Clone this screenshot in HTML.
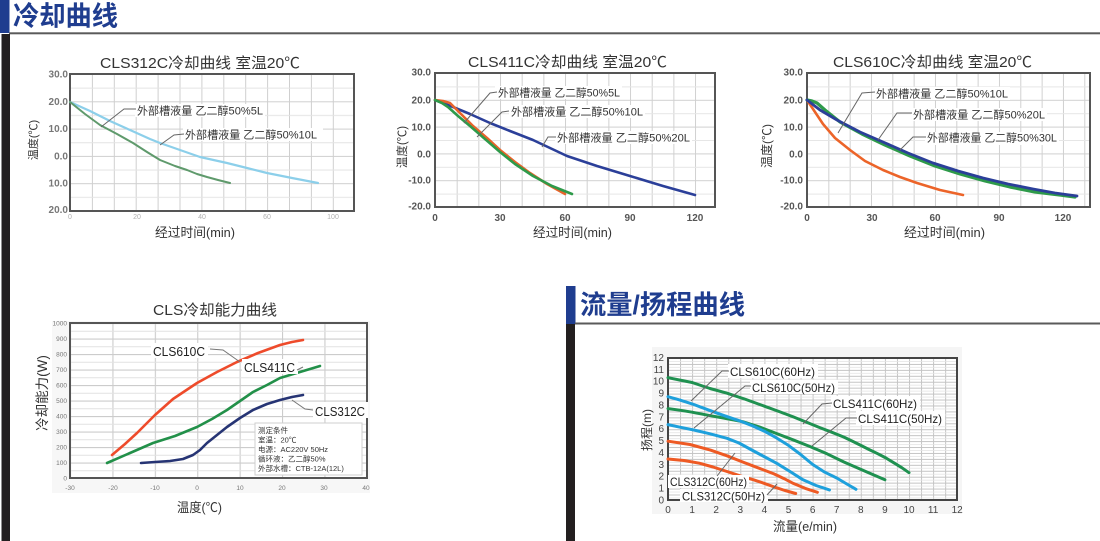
<!DOCTYPE html>
<html>
<head>
<meta charset="utf-8">
<style>
html,body{margin:0;padding:0;background:#fff;}
svg{display:block;}
text{font-family:"Liberation Sans","Noto Sans CJK SC",sans-serif;}
</style>
</head>
<body>
<svg width="1100" height="541" viewBox="0 0 1100 541" xmlns="http://www.w3.org/2000/svg">
<defs>
  <pattern id="g1" patternUnits="userSpaceOnUse" x="70" y="74" width="21.9" height="27.3">
    <path d="M0.5,0 V27.3 M0,0.5 H21.9" stroke="#cfcfcf" stroke-width="1" fill="none"/>
    <path d="M0,14.15 H21.9" stroke="#e4e4e4" stroke-width="1" fill="none"/>
  </pattern>
  <pattern id="g2" patternUnits="userSpaceOnUse" x="435" y="73" width="21.67" height="26.8">
    <path d="M0.5,0 V26.8 M0,0.5 H21.67" stroke="#d0d0d0" stroke-width="1" fill="none"/>
    <path d="M0,13.9 H21.67" stroke="#e6e6e6" stroke-width="1" fill="none"/>
  </pattern>
  <pattern id="g3" patternUnits="userSpaceOnUse" x="807" y="73" width="21.33" height="26.8">
    <path d="M0.5,0 V26.8 M0,0.5 H21.33" stroke="#d0d0d0" stroke-width="1" fill="none"/>
    <path d="M0,13.9 H21.33" stroke="#e6e6e6" stroke-width="1" fill="none"/>
  </pattern>
  <pattern id="g4" patternUnits="userSpaceOnUse" x="70" y="323" width="42.4" height="15.5">
    <path d="M0.5,0 V15.5 M0,0.5 H42.4" stroke="#cccccc" stroke-width="1.2" fill="none"/>
    <path d="M0,8.25 H42.4" stroke="#e2e2e2" stroke-width="1" fill="none"/>
  </pattern>
  <pattern id="g5" patternUnits="userSpaceOnUse" x="668" y="358" width="12.05" height="5.935">
    <path d="M0.5,0 V5.935 M0,0.5 H12.05" stroke="#c4c4c4" stroke-width="1" fill="none"/>
    <path d="M0,3.47 H12.05" stroke="#e4e4e4" stroke-width="0.8" fill="none"/>
  </pattern>
</defs>

<!-- ===== Section 1 header ===== -->
<rect x="0" y="0" width="9.5" height="33" fill="#1f3d8f"/>
<rect x="9" y="32.3" width="1091" height="2" fill="#5a5a5a"/>
<rect x="1.5" y="34" width="8.5" height="507" fill="#231f20"/>
<text x="13" y="25.5" font-size="27" font-weight="bold" fill="#1f3d8f" textLength="105" lengthAdjust="spacingAndGlyphs">冷却曲线</text>

<!-- ===== Chart 1 ===== -->
<text x="100" y="68" font-size="15" fill="#333" textLength="200" lengthAdjust="spacingAndGlyphs">CLS312C冷却曲线 室温20℃</text>
<rect x="70" y="74" width="284" height="137" fill="url(#g1)"/>
<rect x="70" y="74" width="284" height="137" fill="none" stroke="#555" stroke-width="2"/>
<g font-size="10" font-weight="bold" fill="#777" text-anchor="end">
  <text x="68" y="77.5">30.0</text>
  <text x="68" y="104.8">20.0</text>
  <text x="68" y="132">10.0</text>
  <text x="68" y="159.4">0.0</text>
  <text x="68" y="186.7">10.0</text>
  <text x="68" y="213">20.0</text>
</g>
<g font-size="7" fill="#b0b0b0" text-anchor="middle">
  <text x="70" y="219">0</text>
  <text x="137" y="219">20</text>
  <text x="202" y="219">40</text>
  <text x="267" y="219">60</text>
  <text x="333" y="219">100</text>
</g>
<text transform="translate(37,140) rotate(-90)" font-size="11" fill="#333" text-anchor="middle">温度(℃)</text>
<text x="155" y="237" font-size="13" fill="#333" textLength="80" lengthAdjust="spacingAndGlyphs">经过时间(min)</text>
<polyline points="70,102 90,111 110,121 130,130 150,139 160,143 180,150 200,157 227,163 247,168 267,173 292,178 318,183" fill="none" stroke="#8ccfea" stroke-width="2.2" stroke-linejoin="round" stroke-linecap="round"/>
<polyline points="70,102 85,114 100,125 117,134 133,143 147,152 160,160 175,166 187,170 197,174 207,177 218,180 230,183" fill="none" stroke="#5f9a6c" stroke-width="2" stroke-linejoin="round" stroke-linecap="round"/>
<rect x="135" y="104" width="130" height="13" fill="#fff"/>
<rect x="183" y="128" width="140" height="13" fill="#fff"/>
<polyline points="136,109 124,109 101,127" fill="none" stroke="#666" stroke-width="1"/>
<polyline points="184,134 174,135 160,145" fill="none" stroke="#666" stroke-width="1"/>
<text x="137" y="114.5" font-size="11" fill="#333" textLength="126" lengthAdjust="spacingAndGlyphs">外部槽液量 乙二醇50%5L</text>
<text x="185" y="138.5" font-size="11" fill="#333" textLength="132" lengthAdjust="spacingAndGlyphs">外部槽液量 乙二醇50%10L</text>

<!-- ===== Chart 2 ===== -->
<text x="468" y="67" font-size="15" fill="#333" textLength="199" lengthAdjust="spacingAndGlyphs">CLS411C冷却曲线 室温20℃</text>
<rect x="435" y="73" width="280" height="134" fill="url(#g2)"/>
<rect x="435" y="73" width="280" height="134" fill="none" stroke="#555" stroke-width="2"/>
<g font-size="10" font-weight="bold" fill="#555" text-anchor="end">
  <text x="431" y="75.5">30.0</text>
  <text x="431" y="103.5">20.0</text>
  <text x="431" y="130.5">10.0</text>
  <text x="431" y="157.5">0.0</text>
  <text x="431" y="183.5">-10.0</text>
  <text x="431" y="209.5">-20.0</text>
</g>
<g font-size="10" font-weight="bold" fill="#555" text-anchor="middle">
  <text x="435" y="221">0</text>
  <text x="500" y="221">30</text>
  <text x="565" y="221">60</text>
  <text x="630" y="221">90</text>
  <text x="695" y="221">120</text>
</g>
<text transform="translate(406,147) rotate(-90)" font-size="11.5" fill="#333" text-anchor="middle">温度(℃)</text>
<text x="533" y="237" font-size="13" fill="#333" textLength="79" lengthAdjust="spacingAndGlyphs">经过时间(min)</text>
<polyline points="435,100 453,107 470,114 490,123 510,131 533,140 550,148 567,156 597,166 630,176 663,186 695,195" fill="none" stroke="#2b3f99" stroke-width="2.6" stroke-linejoin="round" stroke-linecap="round"/>
<polyline points="435,100 443,101 450,103 460,113 473,126 487,138 500,150 515,162 530,173 547,184 565,194" fill="none" stroke="#e8632a" stroke-width="2.6" stroke-linejoin="round" stroke-linecap="round"/>
<polyline points="435,100 442,103 448,107 458,116 470,126 485,139 500,152 515,164 533,176 552,186 572,194" fill="none" stroke="#2e9a4a" stroke-width="2.6" stroke-linejoin="round" stroke-linecap="round"/>
<rect x="495" y="86" width="127" height="13" fill="#fff"/>
<rect x="509" y="105" width="136" height="13" fill="#fff"/>
<rect x="555" y="131" width="137" height="13" fill="#fff"/>
<polyline points="497,92 490,93 464,123" fill="none" stroke="#666" stroke-width="1"/>
<polyline points="509,111 502,112 477,137" fill="none" stroke="#666" stroke-width="1"/>
<polyline points="556,137 548,137 542,147" fill="none" stroke="#666" stroke-width="1"/>
<text x="498" y="96.5" font-size="11" fill="#333" textLength="122" lengthAdjust="spacingAndGlyphs">外部槽液量 乙二醇50%5L</text>
<text x="511" y="115.5" font-size="11" fill="#333" textLength="132" lengthAdjust="spacingAndGlyphs">外部槽液量 乙二醇50%10L</text>
<text x="557" y="141.5" font-size="11" fill="#333" textLength="133" lengthAdjust="spacingAndGlyphs">外部槽液量 乙二醇50%20L</text>

<!-- ===== Chart 3 ===== -->
<text x="833" y="67" font-size="15" fill="#333" textLength="199" lengthAdjust="spacingAndGlyphs">CLS610C冷却曲线 室温20℃</text>
<rect x="807" y="73" width="283" height="134" fill="url(#g3)"/>
<rect x="807" y="73" width="283" height="134" fill="none" stroke="#555" stroke-width="2"/>
<g font-size="10" font-weight="bold" fill="#555" text-anchor="end">
  <text x="803" y="75.5">30.0</text>
  <text x="803" y="103.5">20.0</text>
  <text x="803" y="130.5">10.0</text>
  <text x="803" y="157.5">0.0</text>
  <text x="803" y="183.5">-10.0</text>
  <text x="803" y="209.5">-20.0</text>
</g>
<g font-size="10" font-weight="bold" fill="#555" text-anchor="middle">
  <text x="807" y="221">0</text>
  <text x="872" y="221">30</text>
  <text x="935" y="221">60</text>
  <text x="999" y="221">90</text>
  <text x="1063" y="221">120</text>
</g>
<text transform="translate(771,146) rotate(-90)" font-size="12" fill="#333" text-anchor="middle">温度(℃)</text>
<text x="904" y="237" font-size="13" fill="#333" textLength="81" lengthAdjust="spacingAndGlyphs">经过时间(min)</text>
<polyline points="807,100 815,112 823,124 835,138 850,150 865,161 883,170 900,177 917,183 940,190 963,195" fill="none" stroke="#ec6429" stroke-width="2.6" stroke-linejoin="round" stroke-linecap="round"/>
<polyline points="807,100 812,101 817,103 825,110 840,122 862,134 885,145 910,156 935,166 960,174 985,181 1010,187 1035,192 1060,195 1075,197" fill="none" stroke="#2e9a4a" stroke-width="3.2" stroke-linejoin="round" stroke-linecap="round"/>
<polyline points="807,100 820,110 837,120 860,132 883,142 908,153 933,163 958,171 983,178 1008,184 1033,189 1055,193 1077,196" fill="none" stroke="#2b3f99" stroke-width="2.8" stroke-linejoin="round" stroke-linecap="round"/>
<rect x="874" y="87" width="136" height="13" fill="#fff"/>
<rect x="911" y="108" width="136" height="13" fill="#fff"/>
<rect x="925" y="132" width="134" height="13" fill="#fff"/>
<polyline points="875,92 862,93 838,133" fill="none" stroke="#666" stroke-width="1"/>
<polyline points="912,113 897,113 878,140" fill="none" stroke="#666" stroke-width="1"/>
<polyline points="926,137 913,137 900,150" fill="none" stroke="#666" stroke-width="1"/>
<text x="876" y="97.5" font-size="11" fill="#333" textLength="132" lengthAdjust="spacingAndGlyphs">外部槽液量 乙二醇50%10L</text>
<text x="913" y="118.5" font-size="11" fill="#333" textLength="132" lengthAdjust="spacingAndGlyphs">外部槽液量 乙二醇50%20L</text>
<text x="927" y="141.5" font-size="11" fill="#333" textLength="130" lengthAdjust="spacingAndGlyphs">外部槽液量 乙二醇50%30L</text>

<!-- ===== Chart 4 ===== -->
<rect x="52" y="321" width="318" height="172" fill="#f7f7f7"/>
<text x="153" y="315" font-size="15" fill="#333" textLength="124" lengthAdjust="spacingAndGlyphs">CLS冷却能力曲线</text>
<rect x="70" y="323" width="297" height="155" fill="#fff"/>
<rect x="70" y="323" width="297" height="155" fill="url(#g4)"/>
<rect x="70" y="323" width="297" height="155" fill="none" stroke="#555" stroke-width="2"/>
<g font-size="6.5" fill="#777" text-anchor="end">
  <text x="67" y="325.5">1000</text>
  <text x="67" y="341">900</text>
  <text x="67" y="356.5">800</text>
  <text x="67" y="372">700</text>
  <text x="67" y="387.5">600</text>
  <text x="67" y="403">500</text>
  <text x="67" y="418.5">400</text>
  <text x="67" y="434">300</text>
  <text x="67" y="449.5">200</text>
  <text x="67" y="465">100</text>
  <text x="67" y="480.5">0</text>
</g>
<g font-size="6.5" fill="#777" text-anchor="middle">
  <text x="70" y="490">-30</text>
  <text x="113" y="490">-20</text>
  <text x="155" y="490">-10</text>
  <text x="197" y="490">0</text>
  <text x="240" y="490">10</text>
  <text x="282" y="490">20</text>
  <text x="324" y="490">30</text>
  <text x="366" y="490">40</text>
</g>
<text transform="translate(47,393) rotate(-90)" font-size="13.5" fill="#333" text-anchor="middle">冷却能力(W)</text>
<text x="177" y="512" font-size="13" fill="#333" textLength="45" lengthAdjust="spacingAndGlyphs">温度(℃)</text>
<polyline points="112,455 125,444 137,433 155,415 173,399 185,391 197,383 217,372 237,362 258,353 280,345 292,342 303,340" fill="none" stroke="#ee4b2b" stroke-width="2.6" stroke-linejoin="round" stroke-linecap="round"/>
<polyline points="107,463 130,453 153,443 175,436 197,427 212,419 227,410 240,401 253,392 267,385 280,378 300,372 320,366" fill="none" stroke="#229049" stroke-width="2.6" stroke-linejoin="round" stroke-linecap="round"/>
<polyline points="141,463 155,462 170,461 183,459 193,455 200,450 207,443 217,435 227,427 240,418 253,410 267,404 280,400 292,397 303,395" fill="none" stroke="#263474" stroke-width="2.6" stroke-linejoin="round" stroke-linecap="round"/>
<rect x="151" y="343" width="57" height="15" fill="#fff"/>
<rect x="242" y="359" width="56" height="15" fill="#fff"/>
<rect x="313" y="402" width="55" height="16" fill="#fff"/>
<polyline points="210,349 223,350 240,362" fill="none" stroke="#777" stroke-width="1"/>
<polyline points="297,370 303,367" fill="none" stroke="#777" stroke-width="1"/>
<polyline points="313,410 305,409 292,400" fill="none" stroke="#777" stroke-width="1"/>
<text x="153" y="356" font-size="13" fill="#222" textLength="52" lengthAdjust="spacingAndGlyphs">CLS610C</text>
<text x="244" y="372" font-size="13" fill="#222" textLength="51" lengthAdjust="spacingAndGlyphs">CLS411C</text>
<text x="315" y="416" font-size="13" fill="#222" textLength="50" lengthAdjust="spacingAndGlyphs">CLS312C</text>
<rect x="255" y="423" width="107" height="52" fill="#fff" stroke="#cfcfcf" stroke-width="1"/>
<g font-size="7.5" fill="#333">
  <text x="258" y="433">测定条件</text>
  <text x="258" y="442.5">室温：20℃</text>
  <text x="258" y="452">电源：AC220V 50Hz</text>
  <text x="258" y="461.5">循环液：乙二醇50%</text>
  <text x="258" y="471">外部水槽：CTB-12A(12L)</text>
</g>

<!-- ===== Section 2 header ===== -->
<rect x="566" y="286" width="9.5" height="38" fill="#1f3d8f"/>
<rect x="575" y="322.5" width="525" height="2" fill="#5a5a5a"/>
<rect x="566" y="324" width="9" height="217" fill="#231f20"/>
<text x="580" y="314" font-size="26.5" font-weight="bold" fill="#1f3d8f" textLength="165" lengthAdjust="spacingAndGlyphs">流量/扬程曲线</text>

<!-- ===== Chart 5 ===== -->
<rect x="652" y="347" width="310" height="167" fill="#f5f5f5"/>
<rect x="668" y="358" width="289" height="142" fill="#fff"/>
<rect x="668" y="358" width="289" height="142" fill="url(#g5)"/>
<rect x="668" y="358" width="289" height="142" fill="none" stroke="#444" stroke-width="2"/>
<g font-size="10" fill="#444" text-anchor="end">
  <text x="664" y="361">12</text>
  <text x="664" y="372.9">11</text>
  <text x="664" y="384.7">10</text>
  <text x="664" y="396.6">9</text>
  <text x="664" y="408.5">8</text>
  <text x="664" y="420.3">7</text>
  <text x="664" y="432.2">6</text>
  <text x="664" y="444.1">5</text>
  <text x="664" y="456">4</text>
  <text x="664" y="467.8">3</text>
  <text x="664" y="479.7">2</text>
  <text x="664" y="491.6">1</text>
  <text x="664" y="503.5">0</text>
</g>
<g font-size="10" fill="#444" text-anchor="middle">
  <text x="668" y="513">0</text>
  <text x="692.1" y="513">1</text>
  <text x="716.2" y="513">2</text>
  <text x="740.3" y="513">3</text>
  <text x="764.4" y="513">4</text>
  <text x="788.5" y="513">5</text>
  <text x="812.6" y="513">6</text>
  <text x="836.7" y="513">7</text>
  <text x="860.8" y="513">8</text>
  <text x="884.9" y="513">9</text>
  <text x="909" y="513">10</text>
  <text x="933.1" y="513">11</text>
  <text x="957.2" y="513">12</text>
</g>
<text transform="translate(651,430) rotate(-90)" font-size="12" fill="#333" text-anchor="middle">扬程(m)</text>
<text x="773" y="531" font-size="13" fill="#333" textLength="64" lengthAdjust="spacingAndGlyphs">流量(e/min)</text>
<g fill="none" stroke-width="3" stroke-linejoin="round" stroke-linecap="round">
  <polyline stroke="#1f9150" points="668,377.7 692.1,382.5 710,388.5 727,393.2 746,399.5 764.4,406.2 779,411.5 793.3,416.9 806,422 819.8,427.6 832,432.3 843.9,437.1 852,441 860.8,445.4 869,449.5 877.7,453.7 886,458 894.5,463.2 902,467.8 909,472.7"/>
  <polyline stroke="#1f9150" points="668,408.6 680,410.2 692.1,412.2 710.4,415.7 726,418.5 742.7,421.7 760,427.2 776.5,433.5 793,439.8 810.2,446.6 827,453.8 843.9,462 864,470.8 884.9,479.8"/>
  <polyline stroke="#1ea0dc" points="668,396.7 680,400.1 692.1,403.9 704,408.3 716.2,412.8 728,416.9 740.3,421.1 752,425.6 764.4,431.2 776,437.6 788.5,445.4 800,454 812.6,464.4 824,471.8 836.7,478 846,483.5 856,489.3"/>
  <polyline stroke="#1ea0dc" points="668,424.6 680,427.2 693.8,430 710,433.8 727,438.3 739,443 749.9,449 763,456 776.5,463.2 790,471.5 803,479.8 816,485.5 829.5,489.9"/>
  <polyline stroke="#ee5a24" points="668,441.2 690,444.5 710.4,450.1 727,455.8 742.7,462 758,467.8 774,473.9 784,478.6 793.3,483.4 805,488.3 817.4,492.3"/>
  <polyline stroke="#ee5a24" points="668,459 684,460.5 699.3,463.2 713,467 727,471.5 740,475.8 753.6,479.8 764,483.3 774,486.9 785,490.5 795.7,493.5"/>
</g>
<rect x="728" y="364" width="90" height="14" fill="#fff"/>
<rect x="750" y="380" width="88" height="14" fill="#fff"/>
<rect x="831" y="396" width="89" height="14" fill="#fff"/>
<rect x="856" y="411" width="89" height="14" fill="#fff"/>
<rect x="668" y="475" width="81" height="13" fill="#fff"/>
<rect x="680" y="489" width="88" height="13" fill="#fff"/>
<g fill="none" stroke="#666" stroke-width="1">
  <polyline points="729,371 722,371 691,401"/>
  <polyline points="751,386 745,386 694,428"/>
  <polyline points="832,403 822,404 803,424"/>
  <polyline points="857,418 846,418 812,446"/>
  <polyline points="717,476 735,453"/>
  <polyline points="767,495 777,484"/>
</g>
<g font-size="12" fill="#222">
  <text x="730" y="376" textLength="85" lengthAdjust="spacingAndGlyphs">CLS610C(60Hz)</text>
  <text x="752" y="392" textLength="83" lengthAdjust="spacingAndGlyphs">CLS610C(50Hz)</text>
  <text x="833" y="408" textLength="84" lengthAdjust="spacingAndGlyphs">CLS411C(60Hz)</text>
  <text x="858" y="423" textLength="84" lengthAdjust="spacingAndGlyphs">CLS411C(50Hz)</text>
  <text x="670" y="486" textLength="77" lengthAdjust="spacingAndGlyphs">CLS312C(60Hz)</text>
  <text x="682" y="500.5" textLength="83" lengthAdjust="spacingAndGlyphs">CLS312C(50Hz)</text>
</g>
</svg>
</body>
</html>
